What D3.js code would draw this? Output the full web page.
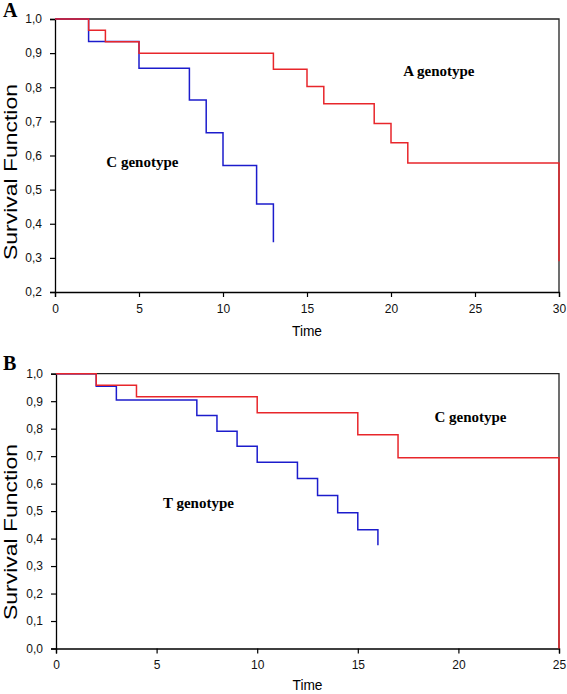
<!DOCTYPE html>
<html><head><meta charset="utf-8">
<script src="https://cdn.jsdelivr.net/npm/d3@7"></script>
<style>body{margin:0;background:#fff}svg{display:block}</style>
</head><body>
<script>
// Panel A data
const aTicksX = [0,5,10,15,20,25,30];
const aTicksY = [0.2,0.3,0.4,0.5,0.6,0.7,0.8,0.9,1.0];
const aRedTime = [0,2,3,5,13,15,16,19,20,21,30];
const aRedSurv = [1,0.967,0.933,0.9,0.853,0.802,0.752,0.694,0.637,0.578,0.29];
const aBlueTime = [0,2,5,8,9,10,12,13];
const aBlueSurv = [1,0.934,0.856,0.763,0.667,0.571,0.458,0.346];
const aLabels = ["A genotype","C genotype"];
// Panel B data
const bTicksX = [0,5,10,15,20,25];
const bTicksY = [0,0.1,0.2,0.3,0.4,0.5,0.6,0.7,0.8,0.9,1.0];
const bRedTime = [0,2,4,10,15,17,25];
const bRedSurv = [1,0.958,0.916,0.858,0.778,0.694,0];
const bBlueTime = [0,2,3,7,8,9,10,12,13,14,15,16];
const bBlueSurv = [1,0.954,0.904,0.848,0.791,0.736,0.678,0.619,0.557,0.494,0.432,0.376];
const bLabels = ["C genotype","T genotype"];

const W=567,H=694;
const svg=d3.select("body").append("svg").attr("width",W).attr("height",H);
const RED="#e8262b", BLUE="#1c1ccc";
const fmt=d=>d3.format(".1f")(d).replace(".",",");

function panel(o){
  const x=d3.scaleLinear().domain(o.xd).range(o.xr);
  const y=d3.scaleLinear().domain(o.yd).range(o.yr);
  const g=svg.append("g");
  g.append("path").attr("d",`M${o.xr[0]},${o.yr[1]}H${o.xr[1]}V${o.yr[0]}`)
    .attr("fill","none").attr("stroke","#222").attr("stroke-width",1.3);
  const ax=g.append("g").attr("transform",`translate(0,${o.yr[0]})`)
    .call(d3.axisBottom(x).tickValues(o.tx).tickSize(5).tickPadding(7).tickFormat(d3.format("d")));
  const ay=g.append("g").attr("transform",`translate(${o.xr[0]},0)`)
    .call(d3.axisLeft(y).tickValues(o.ty).tickSize(5).tickPadding(8).tickFormat(fmt));
  [ax,ay].forEach(a=>{
    a.select(".domain").attr("stroke","#000").attr("stroke-width",1.3);
    a.selectAll(".tick line").attr("stroke","#000").attr("stroke-width",1.2);
    a.selectAll("text").attr("font-family","Liberation Sans, Arial, sans-serif").attr("font-size",12).attr("fill","#111");
  });
  const line=d3.line().x(d=>x(d[0])).y(d=>y(d[1])).curve(d3.curveStepAfter);
  g.append("path").datum(d3.zip(o.bt,o.bs)).attr("d",line).attr("fill","none").attr("stroke",BLUE).attr("stroke-width",1.5);
  g.append("path").datum(d3.zip(o.rt,o.rs)).attr("d",line).attr("fill","none").attr("stroke",RED).attr("stroke-width",1.5);
  const serif="Liberation Serif, Times New Roman, serif";
  [[o.l1,o.labels[0]],[o.l2,o.labels[1]]].forEach(([p,t])=>{
    g.append("text").attr("x",x(p[0])).attr("y",y(p[1])).text(t)
      .attr("font-family",serif).attr("font-weight","bold").attr("font-size",15).attr("text-anchor","middle");
  });
  g.append("text").attr("x",3).attr("y",o.py).text(o.panel)
    .attr("font-family",serif).attr("font-weight","bold").attr("font-size",20);
  g.append("text").attr("x",(o.xr[0]+o.xr[1])/2).attr("y",o.ty0).text("Time")
    .attr("font-family","Liberation Sans, Arial, sans-serif").attr("font-size",15).attr("text-anchor","middle")
    .attr("textLength",30).attr("lengthAdjust","spacingAndGlyphs");
  g.append("text").attr("transform",`translate(17,${o.ylc}) rotate(-90)`).text("Survival Function")
    .attr("font-family","Liberation Sans, Arial, sans-serif").attr("font-size",18).attr("text-anchor","middle")
    .attr("textLength",176).attr("lengthAdjust","spacingAndGlyphs");
}

panel({xd:[0,30],xr:[55,559],yd:[0.2,1.0],yr:[292,19],tx:aTicksX,ty:aTicksY,
  rt:aRedTime,rs:aRedSurv,bt:aBlueTime,bs:aBlueSurv,labels:aLabels,
  l1:[22.85,0.833],l2:[5.2,0.565],panel:"A",py:17,ylc:172,ty0:336});
panel({xd:[0,25],xr:[56,559],yd:[0,1.0],yr:[648.5,373.7],tx:bTicksX,ty:bTicksY,
  rt:bRedTime,rs:bRedSurv,bt:bBlueTime,bs:bBlueSurv,labels:bLabels,
  l1:[20.6,0.824],l2:[7.08,0.511],panel:"B",py:370,ylc:532,ty0:690});
</script>
</body></html>
